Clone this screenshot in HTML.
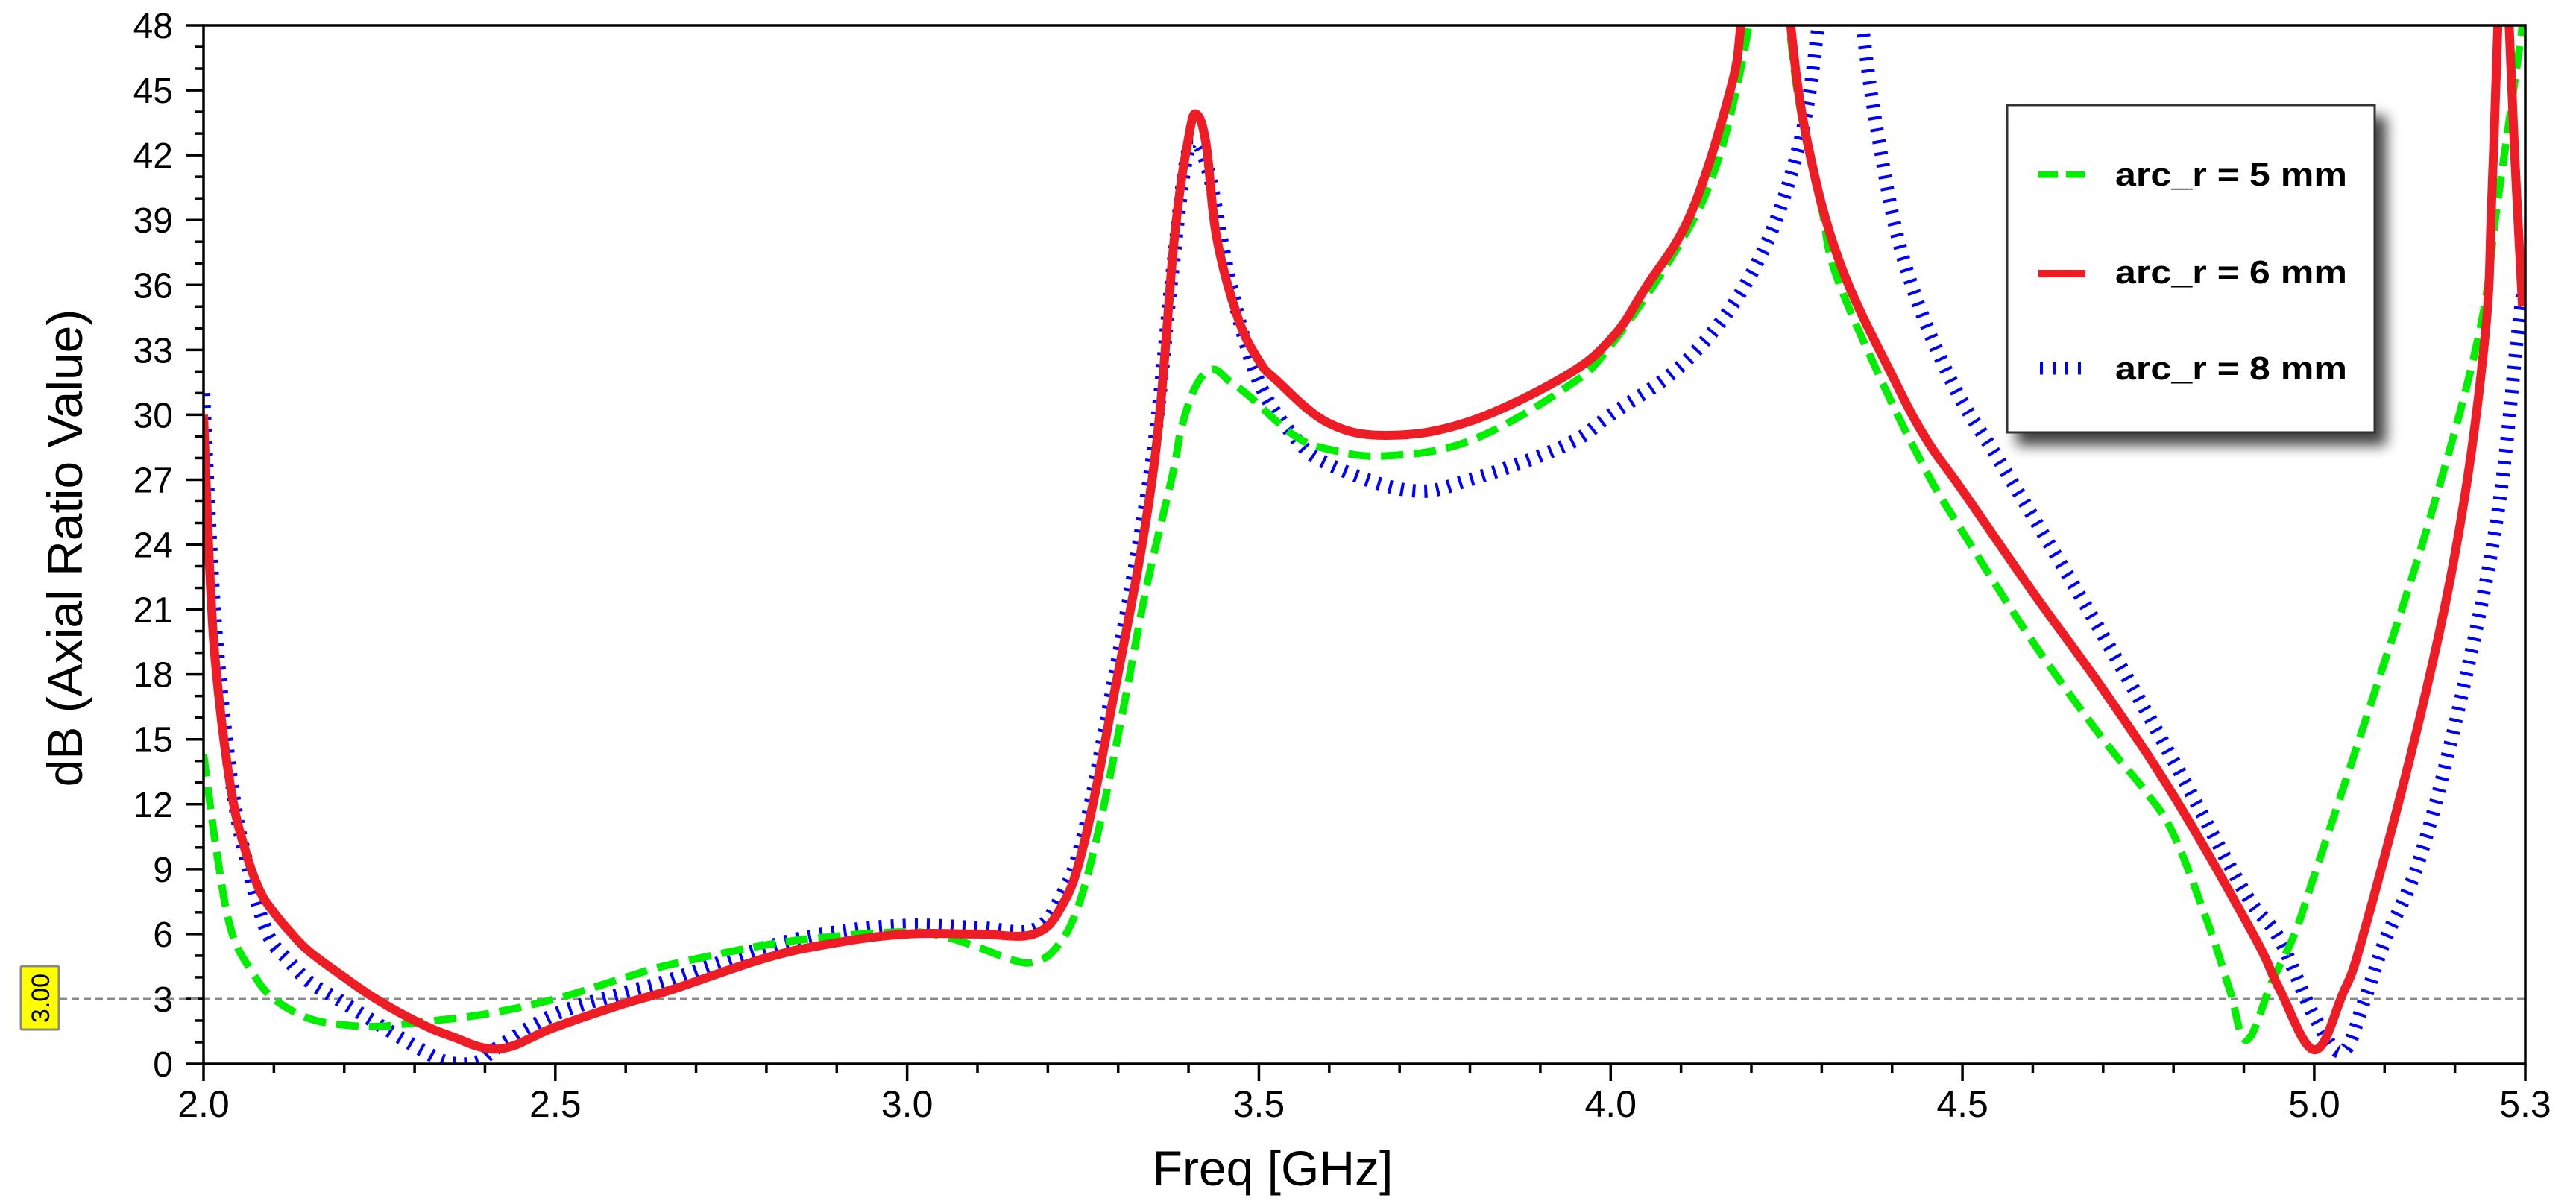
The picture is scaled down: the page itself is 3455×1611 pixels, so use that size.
<!DOCTYPE html>
<html><head><meta charset="utf-8">
<style>
html,body{margin:0;padding:0;background:#fff;}
svg{display:block;}
text{font-family:"Liberation Sans",Arial,sans-serif;}
</style></head>
<body>
<svg id="chart" width="3455" height="1611" viewBox="0 0 3455 1611" xmlns="http://www.w3.org/2000/svg">
<defs>
<clipPath id="plotclip"><rect x="273" y="34" width="3114" height="1393"/></clipPath>
<filter id="shadow" x="-20%" y="-20%" width="150%" height="150%">
<feGaussianBlur in="SourceAlpha" stdDeviation="9"/>
<feOffset dx="14" dy="16" result="ob"/>
<feComponentTransfer><feFuncA type="linear" slope="0.75"/></feComponentTransfer>
<feMerge><feMergeNode/><feMergeNode in="SourceGraphic"/></feMerge>
</filter>
</defs>
<g id="grid"></g>
<g id="series" clip-path="url(#plotclip)"></g>
<rect x="273" y="34" width="3114" height="1393" fill="none" stroke="#000" stroke-width="3.5"/>
<g id="labels"></g>
<text transform="translate(110,735) rotate(-90)" text-anchor="middle" font-size="66" fill="#000">dB (Axial Ratio Value)</text>
<text x="1707" y="1590" text-anchor="middle" font-size="66" fill="#000">Freq [GHz]</text>
<g>
<rect x="28" y="1296" width="51" height="85" fill="#ffff00" stroke="#888" stroke-width="3" rx="2"/>
<text transform="translate(66,1339) rotate(-90)" text-anchor="middle" font-size="34" fill="#000">3.00</text>
</g>
<g>
<rect x="2692" y="141" width="493" height="439" fill="#fff" stroke="#333" stroke-width="3" filter="url(#shadow)"/>
<line x1="2734" y1="234" x2="2796" y2="234" stroke="#00ee00" stroke-width="9" stroke-dasharray="26 11"/>
<text x="2837" y="249" font-size="44" font-weight="bold" textLength="311" lengthAdjust="spacingAndGlyphs">arc_r = 5 mm</text>
<line x1="2734" y1="367" x2="2797" y2="367" stroke="#ee1c24" stroke-width="10"/>
<text x="2837" y="380" font-size="44" font-weight="bold" textLength="311" lengthAdjust="spacingAndGlyphs">arc_r = 6 mm</text>
<line x1="2736" y1="494" x2="2797" y2="494" stroke="#0000ff" stroke-width="17" stroke-dasharray="4 13"/>
<text x="2837" y="509" font-size="44" font-weight="bold" textLength="311" lengthAdjust="spacingAndGlyphs">arc_r = 8 mm</text>
</g>
</svg>
<script>
const xTickLabels = ["2.0","2.5","3.0","3.5","4.0","4.5","5.0","5.3"];
const xTickValues = [2.0,2.5,3.0,3.5,4.0,4.5,5.0,5.3];
const yTickValues = [0,3,6,9,12,15,18,21,24,27,30,33,36,39,42,45,48];
const threshold = 3.0;

const greenF = [2.00,2.02,2.04,2.07,2.10,2.15,2.20,2.25,2.30,2.40,2.50,2.60,2.665,2.80,2.90,3.00,3.05,3.10,3.15,3.18,3.21,3.24,3.27,3.306,3.34,3.377,3.39,3.41,3.434,3.46,3.485,3.55,3.60,3.68,3.80,3.936,4.00,4.10,4.15,4.185,4.20,4.21,
 null,4.245,4.254,4.27,4.30,4.32,4.386,4.45,4.50,4.60,4.70,4.76,4.80,4.85,4.88,4.904,4.94,4.972,5.00,5.078,5.163,5.234,5.26,5.296,5.31];
const greenV = [14.3,9.5,6.1,4.2,3.0,2.1,1.8,1.73,1.9,2.3,3.0,4.0,4.6,5.5,5.9,6.1,5.9,5.4,4.8,4.7,5.3,7.0,10.5,16.2,22,27.2,29.4,31.3,32.1,31.5,30.9,29.05,28.4,28.1,28.8,31.25,33.2,38,41.5,46,49,52,
 null,52,48,44,39.5,36.5,31.5,27.3,24.6,19.5,15,12.6,10.6,6.4,3.4,1.1,3.8,6.0,8.7,16.4,25.05,33.7,39.7,48,52];

const redF = [2.00,2.01,2.02,2.04,2.06,2.08,2.10,2.123,2.15,2.20,2.245,2.30,2.35,2.42,2.50,2.60,2.665,2.80,2.90,3.00,3.10,3.18,3.22,3.25,3.289,3.349,3.38,3.40,3.411,3.425,3.44,3.47,3.50,3.525,3.60,3.687,3.80,3.936,4.003,4.05,4.114,4.17,4.185,4.195,
 null,4.25,4.256,4.279,4.326,4.405,4.45,4.50,4.60,4.70,4.80,4.913,4.95,5.00,5.04,5.07,5.153,5.208,5.243,5.252,5.261,5.265,
 null,5.273,5.277,5.285,5.296];
const redV = [30,22,17.5,12.5,9.8,8.0,7.0,6.1,5.2,4.0,3.0,2.0,1.3,0.69,1.7,2.8,3.42,4.9,5.6,6.0,6.0,6.0,7.3,10,16.2,27.2,38.2,42.8,43.9,42.5,38.2,34.5,32.5,31.6,29.6,29.05,29.7,31.8,33.6,35.9,39.3,45,48,52,
 null,52,48,42.7,37,31.5,28.8,26.5,21.8,17.3,12.4,6.0,3.5,0.65,3.2,6.0,16.4,25.05,33.7,39.7,48,52,
 null,52,48,42,35];

const blueF = [2.00,2.01,2.02,2.04,2.06,2.09,2.12,2.15,2.19,2.25,2.31,2.35,2.39,2.42,2.50,2.60,2.665,2.80,2.90,3.00,3.10,3.18,3.22,3.25,3.285,3.345,3.375,3.395,3.41,3.43,3.46,3.499,3.55,3.60,3.715,3.80,3.936,4.00,4.114,4.208,4.268,4.295,4.305,
 null,4.35,4.358,4.381,4.418,4.482,4.55,4.60,4.70,4.80,4.90,4.95,5.00,5.04,5.07,5.10,5.15,5.205,5.259,5.289,5.30];
const blueV = [31,24,19,13,9.5,6.1,4.8,3.8,3.0,1.8,0.65,0.05,0.1,0.8,2.3,3.3,3.9,5.4,6.1,6.4,6.3,6.2,7.8,10.5,16.2,27.2,36,41.5,42.6,41,36,31.6,29,27.7,26.5,27,28.6,30,32.7,37,42.5,48,52,
 null,52,48,42.7,37,31.7,28,25.3,19.8,14,8,5.8,2.2,0.55,2.8,5.65,9.5,16.4,25.05,33.7,36.5];

const X0=273, X1=3387, Y0=1427, Y1=34, FMIN=2.0, FMAX=5.3, DMIN=0, DMAX=48;
const NS="http://www.w3.org/2000/svg";
function xs(f){return X0+(f-FMIN)/(FMAX-FMIN)*(X1-X0);}
function ys(v){return Y0-(v-DMIN)/(DMAX-DMIN)*(Y0-Y1);}

const grid=document.getElementById('grid');
const labels=document.getElementById('labels');
for(let v=0; v<=48; v++){
  const major = v%3===0;
  const l=document.createElementNS(NS,'line');
  
  
  l.setAttribute('x1', X0-(major?23:12)); l.setAttribute('x2', X0);
  l.setAttribute('y1', ys(v)); l.setAttribute('y2', ys(v));
  l.setAttribute('stroke','#000'); l.setAttribute('stroke-width','3.5');
  grid.appendChild(l);
}
yTickValues.forEach(v=>{
  const t=document.createElementNS(NS,'text');
  
  
  t.setAttribute('x', 232); t.setAttribute('y', ys(v)+17);
  t.setAttribute('text-anchor','end'); t.setAttribute('font-size','48');
  t.textContent=String(v);
  labels.appendChild(t);
});
for(let i=0;i<=33;i++){
  const f=FMIN+i*0.1;
  const major = (i%5===0) || i===33;
  const l=document.createElementNS(NS,'line');
  
  
  l.setAttribute('x1', xs(f)); l.setAttribute('x2', xs(f));
  l.setAttribute('y1', Y0); l.setAttribute('y2', Y0+(major?23:12));
  l.setAttribute('stroke','#000'); l.setAttribute('stroke-width','3.5');
  grid.appendChild(l);
}
xTickValues.forEach((f,i)=>{
  const t=document.createElementNS(NS,'text');
  
  
  t.setAttribute('x', xs(f)); t.setAttribute('y', 1498);
  t.setAttribute('text-anchor','middle'); t.setAttribute('font-size','50');
  t.textContent=xTickLabels[i];
  labels.appendChild(t);
});
const th=document.createElementNS(NS,'line');


th.setAttribute('x1', 80); th.setAttribute('x2', X1);
th.setAttribute('y1', ys(threshold)); th.setAttribute('y2', ys(threshold));
th.setAttribute('stroke','#8a8a8a'); th.setAttribute('stroke-width','3'); th.setAttribute('stroke-dasharray','10 6');
grid.appendChild(th);

function branches(F,V){
  const out=[]; let cur=[];
  for(let i=0;i<F.length;i++){
    if(F[i]===null){ if(cur.length) out.push(cur); cur=[]; continue; }
    cur.push([xs(F[i]), ys(V[i])]);
  }
  if(cur.length) out.push(cur);
  return out;
}
function smoothPath(p){
  let d='M'+p[0][0].toFixed(1)+','+p[0][1].toFixed(1);
  for(let i=0;i<p.length-1;i++){
    const p0=p[i-1]||p[i], p1=p[i], p2=p[i+1], p3=p[i+2]||p2;
    const t=0.18;
    const c1=[p1[0]+(p2[0]-p0[0])*t, p1[1]+(p2[1]-p0[1])*t];
    const c2=[p2[0]-(p3[0]-p1[0])*t, p2[1]-(p3[1]-p1[1])*t];
    d+=' C'+c1[0].toFixed(1)+','+c1[1].toFixed(1)+' '+c2[0].toFixed(1)+','+c2[1].toFixed(1)+' '+p2[0].toFixed(1)+','+p2[1].toFixed(1);
  }
  return d;
}
const seriesG=document.getElementById('series');
function drawSeries(F,V,name,color,width,dash){
  branches(F,V).forEach(b=>{
    const p=document.createElementNS(NS,'path');
    
    
    p.setAttribute('d', smoothPath(b));
    p.setAttribute('fill','none'); p.setAttribute('stroke',color);
    p.setAttribute('stroke-width',width); p.setAttribute('stroke-linejoin','round');
    if(dash) p.setAttribute('stroke-dasharray',dash);
    seriesG.appendChild(p);
  });
}
drawSeries(blueF,blueV,'series-arc-r-8mm','#0000ff',18,'4 12');
drawSeries(greenF,greenV,'series-arc-r-5mm','#00ee00',10,'30 14');
drawSeries(redF,redV,'series-arc-r-6mm','#ee1c24',12,null);
</script>
</body></html>
